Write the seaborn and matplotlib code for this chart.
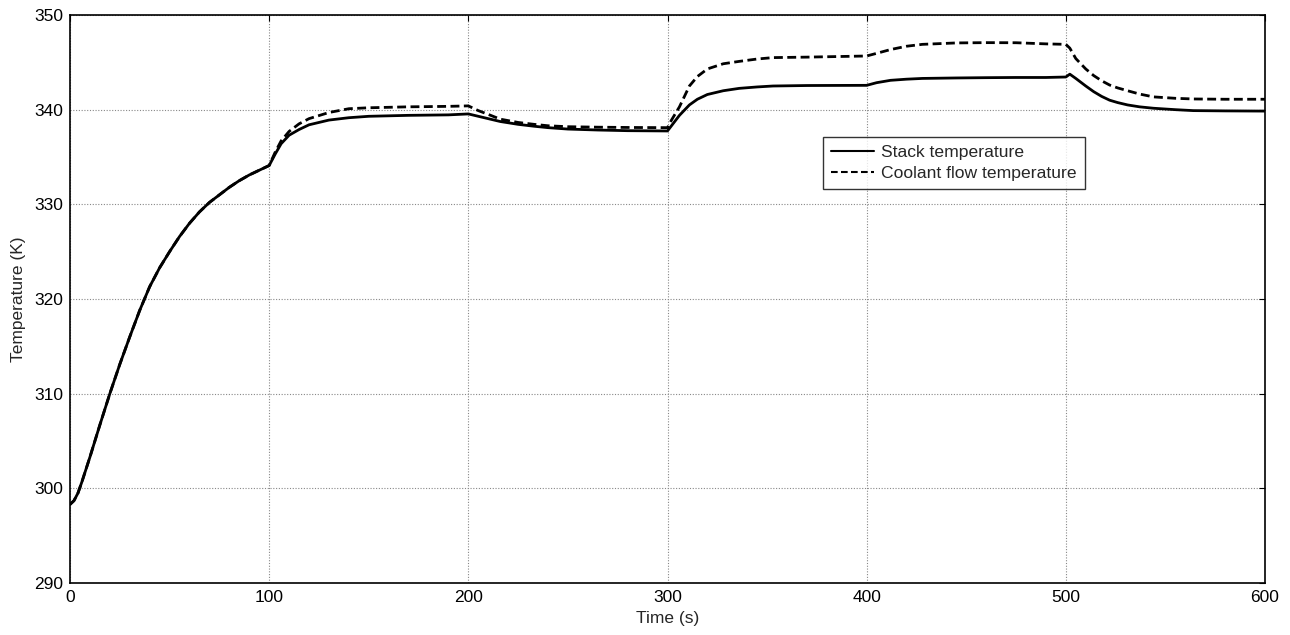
import matplotlib
matplotlib.use("Agg")
import matplotlib.pyplot as plt
import seaborn as sns
import pandas as pd

# time (s)
time_s = [0, 2, 4, 6, 10, 15, 20, 25, 30, 35, 40, 45, 50, 55, 60, 65, 70, 75, 80, 85,
          90, 95, 100, 103, 106, 110, 115, 120, 130, 140, 150, 170, 190, 200, 205, 210,
          216, 225, 233, 240, 250, 265, 280, 300, 302, 306, 311, 315, 320, 328, 336, 345,
          353, 370, 400, 405, 412, 420, 428, 445, 460, 475, 490, 500, 502, 505, 510, 514,
          518, 522, 526, 531, 537, 544, 555, 564, 580, 600]

# stack temperature (K)
stack_temp = [298.3, 298.7, 299.5, 300.7, 303.3, 306.7, 310.0, 313.1, 316.0, 318.8,
              321.3, 323.3, 325.0, 326.6, 328.0, 329.2, 330.2, 331.0, 331.8, 332.5,
              333.1, 333.6, 334.1, 335.3, 336.4, 337.3, 337.9, 338.4, 338.9, 339.15,
              339.3, 339.4, 339.45, 339.55, 339.3, 339.05, 338.75, 338.45, 338.25, 338.1,
              337.95, 337.85, 337.78, 337.75, 338.3, 339.4, 340.5, 341.1, 341.6, 342.0,
              342.25, 342.4, 342.5, 342.55, 342.57, 342.85, 343.1, 343.22, 343.3, 343.35,
              343.38, 343.4, 343.4, 343.45, 343.75, 343.3, 342.5, 341.9, 341.4, 341.0,
              340.75, 340.5, 340.3, 340.15, 340.0, 339.9, 339.87, 339.85]

# coolant flow temperature (K)
coolant_temp = [298.3, 298.7, 299.5, 300.7, 303.3, 306.7, 310.0, 313.1, 316.0, 318.8,
                321.3, 323.3, 325.0, 326.6, 328.0, 329.2, 330.2, 331.0, 331.8, 332.5,
                333.1, 333.6, 334.1, 335.5, 336.7, 337.7, 338.5, 339.05, 339.7, 340.1,
                340.2, 340.3, 340.35, 340.4, 339.9, 339.5, 339.0, 338.65, 338.45, 338.3,
                338.2, 338.15, 338.12, 338.1, 338.9, 340.3, 342.5, 343.5, 344.3, 344.85,
                345.1, 345.35, 345.5, 345.55, 345.67, 345.95, 346.35, 346.7, 346.9, 347.05,
                347.08, 347.07, 346.95, 346.9, 346.5, 345.4, 344.3, 343.6, 343.05, 342.6,
                342.3, 342.0, 341.65, 341.35, 341.2, 341.13, 341.1, 341.1]

series_names = ["Stack temperature", "Coolant flow temperature"]

df = pd.DataFrame({
    "Time": time_s * 2,
    "Temperature": stack_temp + coolant_temp,
    "Series": [series_names[0]] * len(time_s) + [series_names[1]] * len(time_s),
})

sns.set_style("white")
plt.rcParams["font.family"] = ["Liberation Sans", "DejaVu Sans"]

fig = plt.figure(figsize=(12.9, 6.35), dpi=100)
ax = fig.add_axes([70 / 1290, 1 - 583 / 635, 1195 / 1290, 568 / 635])

sns.lineplot(data=df, x="Time", y="Temperature", hue="Series", style="Series",
             palette=["black", "black"], dashes=[(None, None), (3.2, 1.6)],
             linewidth=2, ax=ax, legend=True)

ax.set_xlim(0, 600)
ax.set_ylim(290, 350)
ax.set_xticks(range(0, 601, 100))
ax.set_yticks(range(290, 351, 10))
ax.grid(True, color="#888888", linestyle=(0, (1, 1.5)), linewidth=0.8)
ax.tick_params(direction="in", length=4, width=0.8, labelsize=12.5,
               top=True, right=True, colors="black", pad=5)
for s in ax.spines.values():
    s.set_color("black")
    s.set_linewidth(1.2)

ax.set_xlabel("Time (s)", fontsize=12.5, labelpad=4)
ax.set_ylabel("Temperature (K)", fontsize=12.5, labelpad=6)

leg = ax.legend(loc="upper left", bbox_to_anchor=(0.630, 0.785), fontsize=12.6,
                frameon=True, fancybox=False, handlelength=2.5, handletextpad=0.4,
                borderpad=0.45, labelspacing=0.3, borderaxespad=0)
leg.get_frame().set_edgecolor("black")
leg.get_frame().set_linewidth(1.0)
for line in leg.get_lines():
    line.set_linewidth(1.5)

fig.savefig("out.png", dpi=100)
